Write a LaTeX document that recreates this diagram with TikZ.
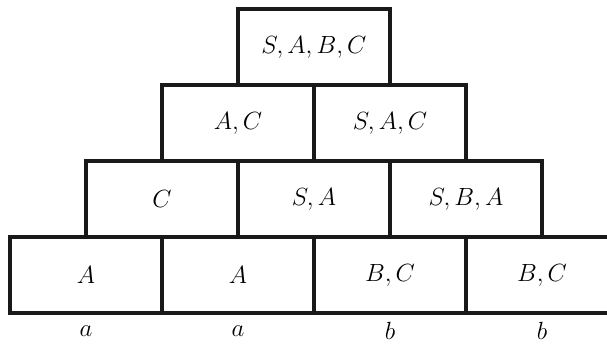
\documentclass[tikz,border=0pt]{standalone}
\begin{document}
\begin{tikzpicture}[x=1pt,y=-1pt,
  cell/.style={draw=black!90,line width=3.2pt,rectangle,minimum width=152pt,minimum height=76pt,inner sep=0pt,font=\fontsize{24.5}{29}\selectfont},
  term/.style={inner sep=0pt,font=\fontsize{24.5}{29}\selectfont}]
\useasboundingbox (0,0) rectangle (607,345);
\clip (0,0) rectangle (607,345);
% bottom row
\node[cell] (b1) at (86,275) {$A$};
\node[cell] (b2) at (238,275) {$A$};
\node[cell] (b3) at (390,275) {$B, C$};
\node[cell] (b4) at (542,275) {$B, C$};
% row 2
\node[cell] (r1) at (162,199) {$C$};
\node[cell] (r2) at (314,199) {$S, A$};
\node[cell] (r3) at (466,199) {$S, B, A$};
% row 3
\node[cell] (q1) at (238,123) {$A, C$};
\node[cell] (q2) at (390,123) {$S, A, C$};
% top
\node[cell] (t1) at (314,47) {$S, A, B, C$};
% terminals
\node[term] (w1) at (86,331) {$a$};
\node[term] (w2) at (238,331) {$a$};
\node[term] (w3) at (390,331) {$b$};
\node[term] (w4) at (542,331) {$b$};
\end{tikzpicture}
\end{document}
